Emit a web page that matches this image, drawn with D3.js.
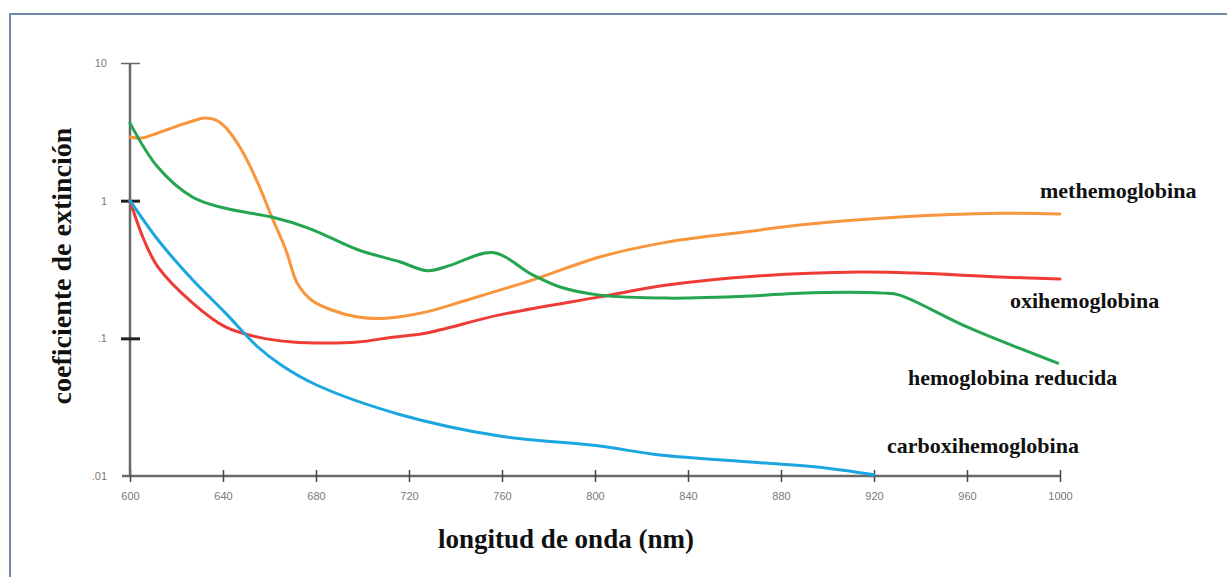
<!DOCTYPE html>
<html>
<head>
<meta charset="utf-8">
<script src="https://cdn.jsdelivr.net/npm/d3@7"></script>
<style>
  body { margin: 0; background: #fff; }
  svg { display: block; }
</style>
</head>
<body>
<div id="chart"></div>
<script>
// wavelengths (nm) and extinction coefficients
const xTicks = [600, 640, 680, 720, 760, 800, 840, 880, 920, 960, 1000];
const yTicks = [0.01, 0.1, 1, 10];
const yTickLabels = [".01", ".1", "1", "10"];

const metWl  = [600, 605, 612, 619, 627, 632, 637, 641, 648, 655, 661, 667, 672, 678, 687, 698, 710, 727, 745, 773, 802, 831, 867, 888, 931, 974, 1000];
const metVal = [2.90, 2.85, 3.10, 3.42, 3.79, 3.98, 3.85, 3.42, 2.33, 1.34, 0.76, 0.44, 0.25, 0.19, 0.16, 0.143, 0.140, 0.155, 0.19, 0.265, 0.39, 0.50, 0.60, 0.665, 0.76, 0.81, 0.80];

const redWl  = [600, 612, 627, 641, 661, 677, 698, 716, 728, 738, 756, 773, 785, 802, 831, 867, 888, 924, 931, 960, 999];
const redVal = [3.66, 1.75, 1.06, 0.88, 0.76, 0.63, 0.44, 0.36, 0.31, 0.34, 0.42, 0.29, 0.236, 0.206, 0.196, 0.203, 0.213, 0.213, 0.206, 0.121, 0.066];

const oxiWl  = [600, 606, 612, 627, 641, 655, 670, 684, 698, 713, 727, 759, 802, 831, 870, 914, 938, 974, 1000];
const oxiVal = [1.0, 0.52, 0.33, 0.18, 0.121, 0.102, 0.094, 0.0925, 0.094, 0.102, 0.109, 0.148, 0.20, 0.244, 0.284, 0.303, 0.298, 0.279, 0.270];

const coWl  = [600, 612, 627, 641, 655, 665, 680, 716, 759, 802, 828, 871, 900, 920];
const coVal = [1.0, 0.52, 0.265, 0.153, 0.0865, 0.064, 0.046, 0.028, 0.0195, 0.0165, 0.0142, 0.0125, 0.0114, 0.0102];

const seriesNames = ["methemoglobina", "oxihemoglobina", "hemoglobina reducida", "carboxihemoglobina"];

const series = [
    { name: seriesNames[0], wl: metWl, val: metVal, color: "#f7963c", lx: 1040, ly: 198 },
    { name: seriesNames[1], wl: oxiWl, val: oxiVal, color: "#ee3b36", lx: 1010, ly: 308 },
    { name: seriesNames[2], wl: redWl, val: redVal, color: "#25a54f", lx: 908, ly: 385 },
    { name: seriesNames[3], wl: coWl, val: coVal, color: "#1aa7df", lx: 887, ly: 453 }
];

const width = 1227;
const height = 577;

const svg = d3.select("#chart")
    .append("svg")
    .attr("width", width)
    .attr("height", height);

// frame
svg.append("path")
    .attr("d", "M10,577 V14 H1227")
    .attr("fill", "none")
    .attr("stroke", "#7088a8")
    .attr("stroke-width", 2);

const x = d3.scaleLinear().domain([600, 1000]).range([130, 1060]);
const y = d3.scaleLog().domain([0.01, 10]).range([476, 63]);

// x axis
const xAxis = svg.append("g")
    .attr("transform", `translate(0,${y(0.01)})`)
    .call(d3.axisBottom(x).tickValues(xTicks).tickFormat(d3.format("d"))
        .tickSize(6).tickSizeOuter(0));
xAxis.select(".domain")
    .attr("d", `M122,0H${x(1000)}`)
    .attr("stroke", "#6a6a6a")
    .attr("stroke-width", 2.5);
xAxis.selectAll(".tick line")
    .attr("y1", -6).attr("y2", 6)
    .attr("stroke", "#444").attr("stroke-width", 1.5);
xAxis.selectAll(".tick text")
    .attr("y", 16)
    .attr("fill", "#7a7a7a")
    .style("font-family", "Liberation Sans, Arial, sans-serif")
    .style("font-size", "11px");

// y axis
const yAxis = svg.append("g")
    .attr("transform", `translate(${x(600)},0)`)
    .call(d3.axisLeft(y).tickValues(yTicks)
        .tickFormat((d, i) => yTickLabels[i]).tickSize(0).tickPadding(23));
yAxis.select(".domain")
    .attr("d", `M0,${y(10)}V${y(0.01)}`)
    .attr("stroke", "#6a6a6a")
    .attr("stroke-width", 2.5);
yAxis.selectAll(".tick")
    .filter(d => d > 0.01)
    .select("line")
    .attr("x1", -9).attr("x2", 10)
    .attr("stroke", d => d === 10 ? "#666" : "#222")
    .attr("stroke-width", d => d === 10 ? 1.5 : 3);
yAxis.selectAll(".tick text")
    .attr("fill", "#7a7a7a")
    .style("font-family", "Liberation Sans, Arial, sans-serif")
    .style("font-size", "11px");

// curves
const line = d3.line()
    .x(d => x(d[0]))
    .y(d => y(d[1]))
    .curve(d3.curveCatmullRom.alpha(0.5));

svg.selectAll("path.curve")
    .data(series)
    .enter()
    .append("path")
    .attr("class", "curve")
    .attr("d", s => line(d3.zip(s.wl, s.val)))
    .attr("fill", "none")
    .attr("stroke", s => s.color)
    .attr("stroke-width", 3)
    .attr("stroke-linecap", "round");

// series labels
svg.selectAll("text.lbl")
    .data(series)
    .enter()
    .append("text")
    .attr("class", "lbl")
    .attr("x", s => s.lx)
    .attr("y", s => s.ly)
    .attr("fill", "#111")
    .style("font-family", "Liberation Serif, Times New Roman, serif")
    .style("font-weight", "bold")
    .style("font-size", "22px")
    .text(s => s.name);

// axis titles
svg.append("text")
    .attr("x", 566)
    .attr("y", 548)
    .attr("text-anchor", "middle")
    .attr("fill", "#111")
    .style("font-family", "Liberation Serif, Times New Roman, serif")
    .style("font-weight", "bold")
    .style("font-size", "27px")
    .text("longitud de onda (nm)");

svg.append("text")
    .attr("transform", "translate(71,266) rotate(-90)")
    .attr("text-anchor", "middle")
    .attr("fill", "#111")
    .style("font-family", "Liberation Serif, Times New Roman, serif")
    .style("font-weight", "bold")
    .style("font-size", "28px")
    .text("coeficiente de extinción");
</script>
</body>
</html>
